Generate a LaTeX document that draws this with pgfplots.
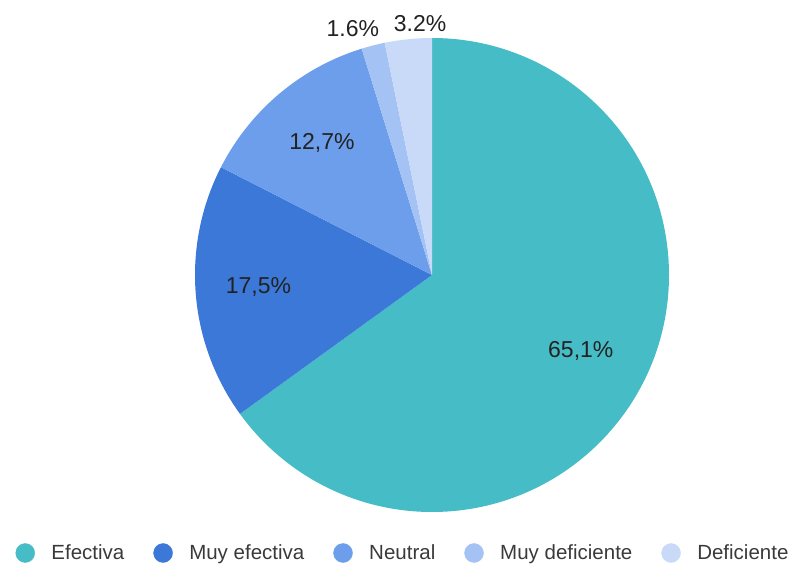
\documentclass[border=0pt]{standalone}
\usepackage{fontspec}
\setmainfont{Liberation Sans}
\usepackage{pgfplots}
\usepackage{pgfplotstable}
\pgfplotsset{compat=1.18}
\definecolor{cEfe}{HTML}{46BDC6}
\definecolor{cMuyE}{HTML}{3C78D8}
\definecolor{cNeu}{HTML}{6D9EEB}
\definecolor{cMuyD}{HTML}{A4C2F4}
\definecolor{cDef}{HTML}{C9DAF8}
\definecolor{labc}{HTML}{222222}
\definecolor{legc}{HTML}{3A3A3A}

% value, colour, label text, label angle (deg), label radius (bp)
\pgfplotstableread{
name value color lab labang labrad
Efectiva 65.1 cEfe 65,1 -27.0 167
MuyEfectiva 17.5 cMuyE 17,5 184.0 174
Neutral 12.7 cNeu 12,7 129.8 172
MuyDeficiente 1.6 cMuyD 1.6 107.8 259
Deficiente 3.2 cDef 3.2 92.7 252
}\piedata

\pgfplotsset{pieleg/.style={legend image code/.code={\fill[#1] (0bp,0bp) circle (9.5bp);}}}

\begin{document}
\begin{tikzpicture}
\pgfmathsetmacro\total{0}
\pgfplotsforeachungrouped \i in {0,...,4}{%
  \pgfplotstablegetelem{\i}{value}\of\piedata
  \pgfmathsetmacro\total{\total+\pgfplotsretval}%
}
\begin{axis}[
  x=1bp, y=1bp,
  xmin=0, xmax=794, ymin=0, ymax=568,
  at={(0,0)}, anchor=origin,
  hide axis, clip=false,
  legend columns=5,
  legend style={draw=none, fill=none, at={(axis cs:402,15)}, anchor=center,
    font=\fontsize{20.5bp}{24bp}\selectfont, text=legc,
    column sep=0pt, nodes={inner xsep=0pt},
    /tikz/every odd column/.append style={column sep=16.5bp},
    /tikz/every even column/.append style={column sep=29bp}},
]
\addlegendimage{pieleg=cEfe}\addlegendentry{Efectiva}
\addlegendimage{pieleg=cMuyE}\addlegendentry{Muy efectiva}
\addlegendimage{pieleg=cNeu}\addlegendentry{Neutral}
\addlegendimage{pieleg=cMuyD}\addlegendentry{Muy deficiente}
\addlegendimage{pieleg=cDef}\addlegendentry{Deficiente}
\def\cum{0}
\pgfplotsforeachungrouped \i in {0,...,4}{%
  \pgfplotstablegetelem{\i}{value}\of\piedata \let\sv\pgfplotsretval
  \pgfplotstablegetelem{\i}{color}\of\piedata \let\sc\pgfplotsretval
  \pgfmathsetmacro\sa{90-360*(\cum/\total)}%
  \pgfmathsetmacro\sb{90-360*((\cum+\sv)/\total)}%
  \edef\cmd{\noexpand\fill[\sc] (axis cs:432,293) -- ++(\sa:237bp) arc[start angle=\sa, end angle=\sb, radius=237bp] -- cycle;}%
  \cmd
  \pgfmathsetmacro\cum{\cum+\sv}%
}
\pgfplotsforeachungrouped \i in {0,...,4}{%
  \pgfplotstablegetelem{\i}{lab}\of\piedata \let\sl\pgfplotsretval
  \pgfplotstablegetelem{\i}{labang}\of\piedata \let\sla\pgfplotsretval
  \pgfplotstablegetelem{\i}{labrad}\of\piedata \let\slr\pgfplotsretval
  \edef\cmd{\noexpand\node[text=labc, font=\noexpand\fontsize{23bp}{27bp}\noexpand\selectfont, inner sep=0pt, shift={(\sla:\slr bp)}] at (axis cs:432,293) {\sl\noexpand\%};}%
  \cmd
}
\end{axis}
\pgfresetboundingbox
\path[use as bounding box] (0,0) rectangle (794bp,568bp);
\end{tikzpicture}
\end{document}
